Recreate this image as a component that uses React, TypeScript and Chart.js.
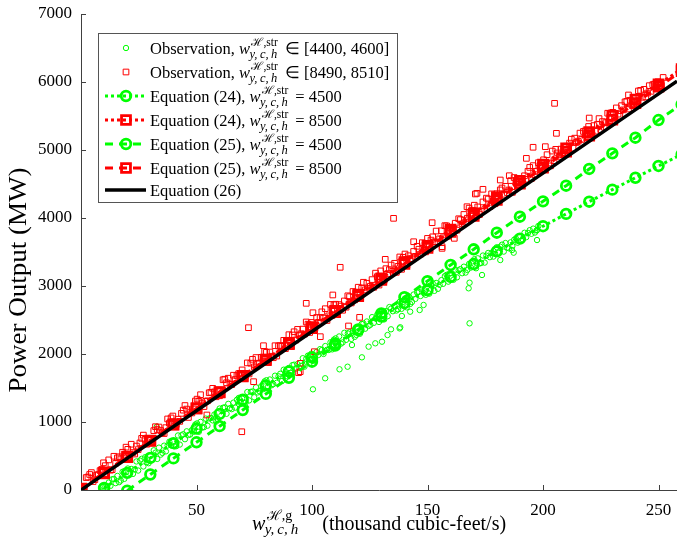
import React, { useEffect, useRef } from 'react';
import { Chart, registerables } from 'chart.js';

Chart.register(...registerables);

const FONT = '"Liberation Serif", "Times New Roman", serif';
const GREEN = '#00ff00';
const RED = '#ff0000';

// ---------- axis ticks & titles ----------
const xTickValues = [50, 100, 150, 200, 250];
const yTickValues = [0, 1000, 2000, 3000, 4000, 5000, 6000, 7000];
const yTitle = 'Power Output (MW)';
const xTitleRest = '(thousand cubic-feet/s)';

// ---------- observations, w_str in [8490, 8510] (red squares) ----------
const obsRedX = [
  0, 3, 6, 9, 12, 15, 18, 21, 24, 27, 30, 33, 36, 39, 42, 45, 48, 51, 54, 57,
  60, 63, 66, 69, 72, 75, 78, 81, 84, 87, 90, 93, 96, 99, 102, 105, 108, 111, 114, 117,
  120, 123, 126, 129, 132, 135, 138, 141, 144, 147, 150, 153, 156, 159, 162, 165, 168, 171, 174, 177,
  180, 183, 186, 189, 192, 195, 198, 201, 204, 207, 210, 213, 216, 219, 222, 225, 228, 231, 234, 237,
  240, 243, 246, 249, 252,
  1.5, 4.5, 7.5, 10.5, 13.5, 16.5, 19.5, 22.5, 25.5, 28.5, 31.5, 34.5, 37.5, 40.5, 43.5, 46.5, 49.5, 52.5, 55.5, 58.5,
  61.5, 64.5, 67.5, 70.5, 73.5, 76.5, 79.5, 82.5, 85.5, 88.5, 91.5, 94.5, 97.5, 100.5, 103.5, 106.5, 109.5, 112.5, 115.5, 118.5,
  121.5, 124.5, 127.5, 130.5, 133.5, 136.5, 139.5, 142.5, 145.5, 148.5, 151.5, 154.5, 157.5, 160.5, 163.5, 166.5, 169.5, 172.5, 175.5, 178.5,
  181.5, 184.5, 187.5, 190.5, 193.5, 196.5, 199.5, 202.5, 205.5, 208.5, 211.5, 214.5, 217.5, 220.5, 223.5, 226.5, 229.5, 232.5, 235.5, 238.5,
  241.5, 244.5, 247.5, 250.5,
  0.75, 3.75, 6.75, 9.75, 12.75, 15.75, 18.75, 21.75, 24.75, 27.75, 30.75, 33.75, 36.75, 39.75, 42.75, 45.75, 48.75, 51.75, 54.75, 57.75,
  60.75, 63.75, 66.75, 69.75, 72.75, 75.75, 78.75, 81.75, 84.75, 87.75, 90.75, 93.75, 96.75, 99.75, 102.75, 105.75, 108.75, 111.75, 114.75, 117.75,
  120.75, 123.75, 126.75, 129.75, 132.75, 135.75, 138.75, 141.75, 144.75, 147.75, 150.75, 153.75, 156.75, 159.75, 162.75, 165.75, 168.75, 171.75, 174.75, 177.75,
  180.75, 183.75, 186.75, 189.75, 192.75, 195.75, 198.75, 201.75, 204.75, 207.75, 210.75, 213.75, 216.75, 219.75, 222.75, 225.75, 228.75, 231.75, 234.75, 237.75,
  240.75, 243.75, 246.75, 249.75,
  2.25, 5.25, 8.25, 11.25, 14.25, 17.25, 20.25, 23.25, 26.25, 29.25, 32.25, 35.25, 38.25, 41.25, 44.25, 47.25, 50.25, 53.25, 56.25, 59.25,
  62.25, 65.25, 68.25, 71.25, 74.25, 77.25, 80.25, 83.25, 86.25, 89.25, 92.25, 95.25, 98.25, 101.25, 104.25, 107.25, 110.25, 113.25, 116.25, 119.25,
  122.25, 125.25, 128.25, 131.25, 134.25, 137.25, 140.25, 143.25, 146.25, 149.25, 152.25, 155.25, 158.25, 161.25, 164.25, 167.25, 170.25, 173.25, 176.25, 179.25,
  182.25, 185.25, 188.25, 191.25, 194.25, 197.25, 200.25, 203.25, 206.25, 209.25, 212.25, 215.25, 218.25, 221.25, 224.25, 227.25, 230.25, 233.25, 236.25, 239.25,
  242.25, 245.25, 248.25, 251.25,
  237, 241.3, 220, 205, 205.8, 195.7, 192.8, 201, 185.4, 181.5, 174, 170.7, 167.1, 161.6, 156.3, 135.3, 152, 171.4,
  131.7, 156.3, 144, 112.2, 72.5, 97.5, 109, 79, 103.6, 94.9, 94.2, 101, 115.8, 74.7, 69.6, 54.5, 100.4, 120.6, 94.9
];
const obsRedY = [
  30, 191, 152, 302, 443, 394, 555, 486, 646, 807, 728, 889, 830, 1060, 1041, 1242, 1133, 1304, 1304, 1495,
  1386, 1577, 1688, 1638, 1869, 1810, 1951, 1902, 2122, 2113, 2284, 2205, 2366, 2316, 2537, 2528, 2729, 2640, 2780, 2751,
  2982, 2943, 3094, 3014, 3255, 3216, 3427, 3388, 3508, 3469, 3700, 3651, 3812, 3732, 3923, 3914, 4145, 4086, 4236, 4167,
  4358, 4349, 4550, 4470, 4621, 4582, 4813, 4784, 4984, 4905, 5056, 5027, 5248, 5218, 5359, 5300, 5541, 5482, 5652, 5603,
  5774, 5775, 5946, 5926, 6067,
  45, 256, 227, 358, 299, 489, 630, 551, 692, 673, 873, 874, 1045, 966, 1127, 1067, 1308, 1279, 1430, 1371,
  1621, 1552, 1683, 1644, 1865, 1855, 2036, 1967, 2118, 2079, 2279, 2270, 2471, 2382, 2533, 2493, 2724, 2705, 2856, 2797,
  2967, 2968, 3189, 3090, 3241, 3201, 3422, 3403, 3584, 3525, 3675, 3636, 3887, 3838, 3989, 3939, 4110, 4051, 4292, 4253,
  4413, 4374, 4595, 4546, 4687, 4637, 4808, 4809, 5010, 4931, 5101, 5112, 5273, 5224, 5375, 5335, 5546, 5527, 5708, 5659,
  5789, 5780, 5961, 5972,
  38, 228, 219, 400, 291, 472, 473, 673, 594, 745, 696, 926, 917, 1088, 1009, 1190, 1191, 1401, 1312, 1443,
  1414, 1644, 1625, 1766, 1707, 1948, 1889, 2029, 1970, 2201, 2202, 2362, 2293, 2464, 2465, 2666, 2567, 2727, 2688, 2919,
  2880, 3040, 2981, 3222, 3183, 3334, 3245, 3445, 3436, 3637, 3598, 3808, 3709, 3860, 3821, 4052, 4032, 4163, 4124, 4355,
  4296, 4466, 4377, 4578, 4569, 4770, 4740, 4931, 4842, 5013, 4964, 5174, 5155, 5346, 5277, 5418, 5398, 5619, 5590, 5731,
  5692, 5892, 5863, 6004,
  183, 124, 285, 295, 496, 457, 598, 529, 759, 730, 931, 842, 983, 963, 1174, 1145, 1336, 1227, 1437, 1448,
  1629, 1550, 1711, 1681, 1922, 1863, 2024, 1945, 2125, 2126, 2327, 2298, 2439, 2379, 2620, 2561, 2732, 2643, 2843, 2824,
  3055, 2996, 3137, 3087, 3308, 3289, 3470, 3401, 3541, 3502, 3723, 3694, 3885, 3805, 3976, 3997, 4188, 4099, 4279, 4210,
  4441, 4412, 4553, 4503, 4744, 4685, 4856, 4767, 4957, 4958, 5159, 5130, 5281, 5221, 5462, 5403, 5554, 5495, 5715, 5676,
  5877, 5838, 5969, 5949,
  5809, 5868, 5470, 5686, 5245, 5040, 4877, 5049, 4622, 4559, 4422, 4353, 4166, 3701, 3578, 3995, 3931, 4363,
  3392, 3554, 3651, 3275, 2387, 2745, 2868, 2122, 2255, 1863, 1725, 2034, 2412, 1593, 857, 1103, 2607, 2539, 1740
];

// ---------- observations, w_str in [4400, 4600] (green circles) ----------
const obsGreenX = [
  9, 12, 15, 18, 21, 24, 27, 30, 33, 36, 39, 42, 45, 48, 51, 54, 57, 60, 63, 66,
  69, 72, 75, 78, 81, 84, 87, 90, 93, 96, 99, 102, 105, 108, 111, 114, 117, 120, 123, 126,
  129, 132, 135, 138, 141, 144, 147, 150, 153, 156, 159, 162, 165, 168, 171, 174, 177, 180, 183, 186,
  189, 192, 195, 198,
  10.5, 13.5, 16.5, 19.5, 22.5, 25.5, 28.5, 31.5, 34.5, 37.5, 40.5, 43.5, 46.5, 49.5, 52.5, 55.5, 58.5, 61.5, 64.5, 67.5,
  70.5, 73.5, 76.5, 79.5, 82.5, 85.5, 88.5, 91.5, 94.5, 97.5, 100.5, 103.5, 106.5, 109.5, 112.5, 115.5, 118.5, 121.5, 124.5, 127.5,
  130.5, 133.5, 136.5, 139.5, 142.5, 145.5, 148.5, 151.5, 154.5, 157.5, 160.5, 163.5, 166.5, 169.5, 172.5, 175.5, 178.5, 181.5, 184.5, 187.5,
  190.5, 193.5, 196.5,
  9.75, 12.75, 15.75, 18.75, 21.75, 24.75, 27.75, 30.75, 33.75, 36.75, 39.75, 42.75, 45.75, 48.75, 51.75, 54.75, 57.75, 60.75, 63.75, 66.75,
  69.75, 72.75, 75.75, 78.75, 81.75, 84.75, 87.75, 90.75, 93.75, 96.75, 99.75, 102.75, 105.75, 108.75, 111.75, 114.75, 117.75, 120.75, 123.75, 126.75,
  129.75, 132.75, 135.75, 138.75, 141.75, 144.75, 147.75, 150.75, 153.75, 156.75, 159.75, 162.75, 165.75, 168.75, 171.75, 174.75, 177.75, 180.75, 183.75, 186.75,
  189.75, 192.75, 195.75,
  11.25, 14.25, 17.25, 20.25, 23.25, 26.25, 29.25, 32.25, 35.25, 38.25, 41.25, 44.25, 47.25, 50.25, 53.25, 56.25, 59.25, 62.25, 65.25, 68.25,
  71.25, 74.25, 77.25, 80.25, 83.25, 86.25, 89.25, 92.25, 95.25, 98.25, 101.25, 104.25, 107.25, 110.25, 113.25, 116.25, 119.25, 122.25, 125.25, 128.25,
  131.25, 134.25, 137.25, 140.25, 143.25, 146.25, 149.25, 152.25, 155.25, 158.25, 161.25, 164.25, 167.25, 170.25, 173.25, 176.25, 179.25, 182.25, 185.25, 188.25,
  191.25, 194.25, 197.25,
  168.2, 100.4, 105.7, 111.9, 115.4, 121.6, 124.5, 127.4, 130.3, 132.7, 134.2, 137.9, 138.9, 142.5, 146.6, 148.3, 117.3,
  138.2, 167.8, 168.2, 173.6, 187.3, 197.4, 181.5, 186.6, 197.4, 32.8
];
const obsGreenY = [
  48, 110, 101, 268, 254, 420, 346, 501, 457, 652, 657, 802, 747, 881, 856, 1050, 1024, 1198, 1121, 1285,
  1288, 1441, 1364, 1526, 1519, 1681, 1603, 1795, 1786, 1938, 1869, 2030, 2001, 2172, 2142, 2312, 2222, 2382, 2372, 2542,
  2471, 2630, 2629, 2768, 2686, 2875, 2853, 3001, 2929, 3086, 3064, 3241, 3188, 3325, 3261, 3448, 3424, 3570, 3506, 3642,
  3637, 3783, 3768, 3883,
  51, 158, 115, 261, 237, 433, 409, 584, 520, 655, 640, 805, 809, 964, 918, 1052, 1006, 1210, 1203, 1327,
  1280, 1443, 1435, 1598, 1540, 1672, 1644, 1836, 1797, 1929, 1900, 2071, 2062, 2212, 2152, 2302, 2252, 2442, 2412, 2522,
  2511, 2690, 2639, 2767, 2736, 2904, 2892, 3010, 2958, 3145, 3113, 3230, 3197, 3363, 3330, 3446, 3432, 3578, 3564, 3680,
  3665, 3781, 3786,
  54, 61, 207, 164, 310, 286, 482, 457, 623, 568, 713, 668, 863, 857, 1002, 946, 1110, 1094, 1267, 1211,
  1344, 1317, 1510, 1482, 1625, 1577, 1769, 1721, 1852, 1814, 2005, 1986, 2117, 2068, 2258, 2208, 2338, 2298, 2478, 2458,
  2607, 2556, 2705, 2664, 2852, 2811, 2949, 2887, 3045, 3032, 3190, 3127, 3284, 3271, 3407, 3344, 3490, 3486, 3632, 3588,
  3723, 3719, 3844,
  36, 163, 139, 316, 302, 458, 394, 549, 545, 710, 645, 820, 815, 979, 924, 1058, 1042, 1216, 1189, 1353,
  1286, 1449, 1452, 1614, 1557, 1709, 1671, 1843, 1824, 1976, 1907, 2058, 2059, 2230, 2170, 2320, 2280, 2450, 2430, 2580,
  2509, 2668, 2657, 2816, 2764, 2913, 2871, 3039, 3017, 3164, 3092, 3249, 3236, 3393, 3339, 3486, 3472, 3608, 3554, 3700,
  3685, 3821, 3816,
  2451, 1481, 1643, 1775, 1813, 1951, 2108, 2157, 2181, 2279, 2363, 2377, 2559, 2622, 2647, 2721, 2132,
  2393, 2966, 3049, 3162, 3490, 3676, 3382, 3529, 3824, 931
];

// ---------- model curves ----------
const eqGreen24X = [10, 20, 30, 40, 50, 60, 70, 80, 90, 100, 110, 120, 130, 140, 150, 160, 170, 180, 190, 200, 210, 220, 230, 240, 250, 260];
const eqGreen24Y = [30, 252, 471, 689, 904, 1118, 1329, 1538, 1745, 1949, 2152, 2352, 2551, 2747, 2941, 3133, 3323, 3510, 3696, 3879, 4060, 4240, 4417, 4592, 4765, 4936];
const eqGreen25X = [20, 30, 40, 50, 60, 70, 80, 90, 100, 110, 120, 130, 140, 150, 160, 170, 180, 190, 200, 210, 220, 230, 240, 250, 260];
const eqGreen25Y = [-9, 228, 465, 702, 939, 1176, 1413, 1650, 1887, 2124, 2361, 2598, 2835, 3072, 3309, 3540, 3784, 4019, 4245, 4475, 4721, 4951, 5181, 5441, 5670];
const eqRedX = [0, 10, 20, 30, 40, 50, 60, 70, 80, 90, 100, 110, 120, 130, 140, 150, 160, 170, 180, 190, 200, 210, 220, 230, 240, 250, 260];
const eqRed24Y = [5, 244, 483, 722, 961, 1200, 1439, 1678, 1917, 2156, 2395, 2634, 2873, 3112, 3351, 3590, 3829, 4068, 4307, 4546, 4785, 5024, 5263, 5502, 5741, 5965, 6190];
const eqRed25Y = [20, 256, 492, 728, 964, 1200, 1436, 1672, 1908, 2144, 2380, 2616, 2852, 3088, 3324, 3560, 3796, 4032, 4268, 4504, 4740, 4976, 5212, 5448, 5690, 5930, 6160];
const eq26X = [0, 50, 100, 150, 200, 250, 258];
const eq26Y = [0, 1165, 2330, 3495, 4660, 5825, 6011];

const pts = (xs: number[], ys: number[]) => xs.map((x, i) => ({ x, y: ys[i] }));

const DOT = [3, 3];
const DASH = [8, 6];
const SUB = 'y,\u2009c,\u2009h';

type LegendItem = {
  kind: 'obs' | 'eq' | 'plain';
  color: string;
  shape: 'circle' | 'rect' | 'none';
  dash: number[];
  lead: string;
  math: boolean;
  tail: string;
};

const legendItems: LegendItem[] = [
  { kind: 'obs', color: GREEN, shape: 'circle', dash: [], lead: 'Observation, ', math: true, tail: '\u2208 [4400, 4600]' },
  { kind: 'obs', color: RED, shape: 'rect', dash: [], lead: 'Observation, ', math: true, tail: '\u2208 [8490, 8510]' },
  { kind: 'eq', color: GREEN, shape: 'circle', dash: DOT, lead: 'Equation (24), ', math: true, tail: '= 4500' },
  { kind: 'eq', color: RED, shape: 'rect', dash: DOT, lead: 'Equation (24), ', math: true, tail: '= 8500' },
  { kind: 'eq', color: GREEN, shape: 'circle', dash: DASH, lead: 'Equation (25), ', math: true, tail: '= 4500' },
  { kind: 'eq', color: RED, shape: 'rect', dash: DASH, lead: 'Equation (25), ', math: true, tail: '= 8500' },
  { kind: 'plain', color: '#000', shape: 'none', dash: [], lead: 'Equation (26)', math: false, tail: '' },
];

function drawW(
  ctx: CanvasRenderingContext2D,
  x: number,
  base: number,
  size: number,
  supSize: number,
  subSize: number,
  sup: string,
  sub: string,
  doDraw = true
) {
  ctx.font = `italic ${size}px ${FONT}`;
  if (doDraw) ctx.fillText('w', x, base);
  const ww = ctx.measureText('w').width;
  ctx.font = `${supSize}px ${FONT}`;
  if (doDraw) ctx.fillText(sup, x + ww + 1.5, base - size * 0.5);
  const supW = ctx.measureText(sup).width;
  ctx.font = `italic ${subSize}px ${FONT}`;
  if (doDraw) ctx.fillText(sub, x + ww - 0.5, base + size * 0.22);
  const subW = ctx.measureText(sub).width;
  return x + ww + Math.max(supW + 1.5, subW - 0.5);
}

function drawMarker(ctx: CanvasRenderingContext2D, shape: string, cx: number, cy: number, r: number) {
  ctx.beginPath();
  if (shape === 'circle') {
    ctx.arc(cx, cy, r, 0, Math.PI * 2);
  } else if (shape === 'rect') {
    const s = r * Math.SQRT1_2;
    ctx.rect(cx - s, cy - s, 2 * s, 2 * s);
  }
  ctx.stroke();
}

const overlayPlugin = {
  id: 'overlay',
  afterDraw(chart: any) {
    const ctx: CanvasRenderingContext2D = chart.ctx;
    const { left, right, top, bottom } = chart.chartArea;
    const xs = chart.scales.x;
    const ys = chart.scales.y;
    ctx.save();
    // inward tick marks
    ctx.strokeStyle = '#404040';
    ctx.lineWidth = 1;
    ctx.setLineDash([]);
    ctx.beginPath();
    for (const v of yTickValues) {
      const py = Math.round(ys.getPixelForValue(v)) + 0.5;
      ctx.moveTo(left, py);
      ctx.lineTo(left + 5, py);
    }
    for (const v of xTickValues) {
      const px = Math.round(xs.getPixelForValue(v)) + 0.5;
      ctx.moveTo(px, bottom);
      ctx.lineTo(px, bottom - 5);
    }
    ctx.stroke();

    // legend
    const bx = left + 17;
    const by = top + 19;
    const bw = 299;
    const bh = 169;
    ctx.fillStyle = '#ffffff';
    ctx.fillRect(bx, by, bw, bh);
    ctx.strokeStyle = '#555555';
    ctx.lineWidth = 1;
    ctx.strokeRect(bx + 0.5, by + 0.5, bw, bh);
    const rowY = [15, 39, 63, 87, 111, 135, 157];
    const sx0 = bx + 7;
    const sx1 = bx + 48;
    const mx = bx + 28;
    const tx = bx + 52;
    const LS = 16.5;
    legendItems.forEach((it, i) => {
      const cy = by + rowY[i];
      ctx.setLineDash([]);
      if (it.kind === 'obs') {
        ctx.strokeStyle = it.color;
        ctx.lineWidth = 1;
        drawMarker(ctx, it.shape, mx, cy, it.shape === 'rect' ? 4 : 2.7);
      } else if (it.kind === 'eq') {
        ctx.strokeStyle = it.color;
        ctx.lineWidth = 3;
        ctx.setLineDash(it.dash);
        ctx.beginPath();
        ctx.moveTo(sx0, cy);
        ctx.lineTo(sx1, cy);
        ctx.stroke();
        ctx.setLineDash([]);
        ctx.lineWidth = 2.8;
        drawMarker(ctx, it.shape, mx, cy, it.shape === 'rect' ? 6.3 : 4.8);
      } else {
        ctx.strokeStyle = '#000';
        ctx.lineWidth = 3.5;
        ctx.beginPath();
        ctx.moveTo(sx0, cy);
        ctx.lineTo(sx1, cy);
        ctx.stroke();
      }
      const base = cy + 6;
      ctx.fillStyle = '#000';
      ctx.textBaseline = 'alphabetic';
      ctx.textAlign = 'left';
      ctx.font = `${LS}px ${FONT}`;
      ctx.fillText(it.lead, tx, base);
      let x = tx + ctx.measureText(it.lead).width;
      if (it.math) {
        x = drawW(ctx, x, base, LS, 11.5, 12.5, '\u210B,str', SUB);
        ctx.font = `${LS}px ${FONT}`;
        ctx.fillText(it.tail, x + 7, base);
      }
    });

    // y-axis title (rotated)
    ctx.save();
    ctx.translate(19, 280);
    ctx.rotate(-Math.PI / 2);
    ctx.scale(1.08, 1);
    ctx.font = `25px ${FONT}`;
    ctx.textAlign = 'center';
    ctx.textBaseline = 'middle';
    ctx.fillStyle = '#000';
    ctx.fillText(yTitle, 0, 0);
    ctx.restore();

    // x-axis title with sub/superscripts
    const tSize = 20;
    ctx.fillStyle = '#000';
    ctx.textAlign = 'left';
    ctx.textBaseline = 'alphabetic';
    const mathEnd = drawW(ctx, 0, 0, tSize, 14, 15, '\u210B,g', SUB, false);
    ctx.font = `${tSize}px ${FONT}`;
    const restW = ctx.measureText(xTitleRest).width;
    const gap = 24;
    const total = mathEnd + gap + restW;
    const startX = (left + right) / 2 - total / 2;
    const tBase = 530;
    const afterW = drawW(ctx, startX, tBase, tSize, 14, 15, '\u210B,g', SUB);
    ctx.font = `${tSize}px ${FONT}`;
    ctx.fillText(xTitleRest, afterW + gap, tBase);
    ctx.restore();
  },
};

export default function App() {
  const ref = useRef<HTMLCanvasElement>(null);
  useEffect(() => {
    const canvas = ref.current;
    if (!canvas) return;
    const eqStyle = (color: string, shape: string, dash: number[], order: number, xsArr: number[], ysArr: number[]) => ({
      data: pts(xsArr, ysArr),
      showLine: true,
      borderColor: color,
      borderWidth: 3,
      borderDash: dash,
      pointStyle: shape,
      pointRadius: shape === 'rect' ? 6.3 : 4.8,
      pointBorderWidth: 2.8,
      pointBorderColor: color,
      pointBackgroundColor: 'rgba(0,0,0,0)',
      order,
    });
    const chart = new Chart(canvas, {
      type: 'scatter',
      data: {
        datasets: [
          {
            data: pts(obsGreenX, obsGreenY),
            pointStyle: 'circle',
            pointRadius: 2.7,
            pointBorderWidth: 1,
            pointBorderColor: GREEN,
            pointBackgroundColor: 'rgba(0,0,0,0)',
            showLine: false,
            order: 6,
          },
          {
            data: pts(obsRedX, obsRedY),
            pointStyle: 'rect',
            pointRadius: 4,
            pointBorderWidth: 1,
            pointBorderColor: RED,
            pointBackgroundColor: 'rgba(0,0,0,0)',
            showLine: false,
            order: 5,
          },
          eqStyle(GREEN, 'circle', DOT, 4, eqGreen24X, eqGreen24Y),
          eqStyle(RED, 'rect', DOT, 3, eqRedX, eqRed24Y),
          eqStyle(GREEN, 'circle', DASH, 2, eqGreen25X, eqGreen25Y),
          eqStyle(RED, 'rect', DASH, 1, eqRedX, eqRed25Y),
          {
            data: pts(eq26X, eq26Y),
            showLine: true,
            borderColor: '#000000',
            borderWidth: 3.5,
            pointRadius: 0,
            order: 0,
          },
        ] as any,
      },
      options: {
        responsive: false,
        animation: false,
        devicePixelRatio: 1,
        layout: { autoPadding: false, padding: { top: 14, left: 0, right: 0, bottom: 0 } },
        plugins: { legend: { display: false }, tooltip: { enabled: false } },
        scales: {
          x: {
            type: 'linear',
            min: 0,
            max: 258,
            afterBuildTicks: (s: any) => {
              s.ticks = xTickValues.map((v) => ({ value: v }));
            },
            afterFit: (s: any) => {
              s.height = 64;
              s.paddingLeft = 0;
              s.paddingRight = 0;
            },
            grid: { display: false, drawTicks: false },
            border: { display: true, color: '#404040', width: 1 },
            ticks: { autoSkip: false, maxRotation: 0, padding: 10, color: '#000', font: { family: FONT, size: 17 }, callback: (v: any) => String(v) },
          },
          y: {
            type: 'linear',
            min: 0,
            max: 7000,
            afterBuildTicks: (s: any) => {
              s.ticks = yTickValues.map((v) => ({ value: v }));
            },
            afterFit: (s: any) => {
              s.width = 81;
              s.paddingTop = 0;
              s.paddingBottom = 0;
            },
            grid: { display: false, drawTicks: false },
            border: { display: true, color: '#404040', width: 1 },
            ticks: { padding: 9, color: '#000', font: { family: FONT, size: 17 }, callback: (v: any) => String(v) },
          },
        },
      } as any,
      plugins: [overlayPlugin],
    });
    return () => chart.destroy();
  }, []);
  return (
    <div style={{ position: 'absolute', left: 0, top: 0, width: 677, height: 554, background: '#fff' }}>
      <canvas ref={ref} width={677} height={554} style={{ display: 'block' }} />
    </div>
  );
}
